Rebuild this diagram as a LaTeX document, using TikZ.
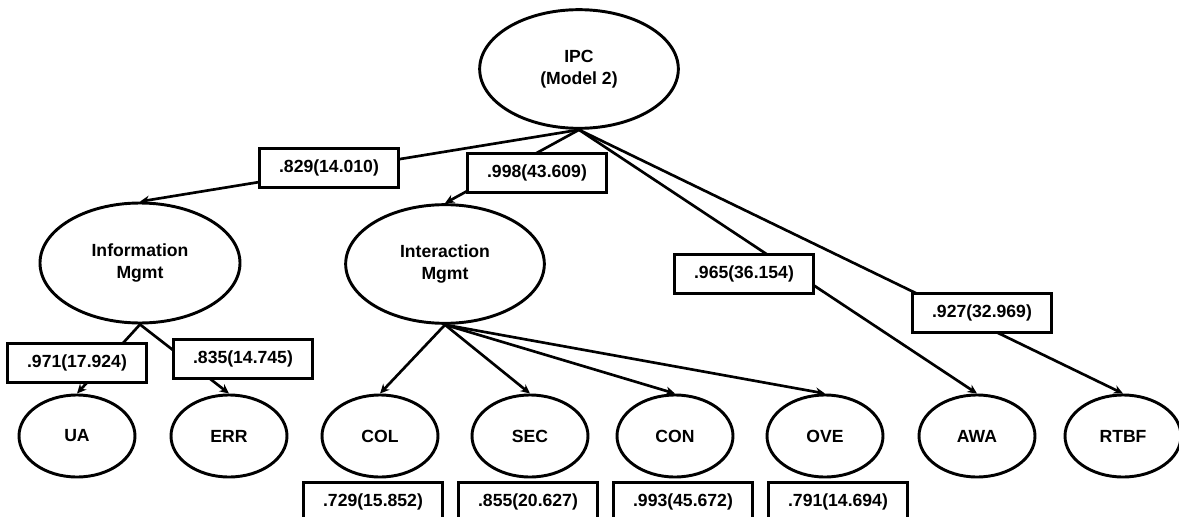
\documentclass[tikz,border=0pt]{standalone}
\usepackage{fontspec}
\setmainfont{Liberation Sans}
\usetikzlibrary{shapes.geometric,arrows.meta}

\tikzset{
  latent/.style={ellipse, draw, line width=2.2pt, inner sep=0pt, align=center,
    font=\fontsize{13.2}{16.5}\selectfont\bfseries},
  bigvar/.style={latent, minimum width=149pt, minimum height=89pt},
  smallvar/.style={latent, minimum width=87pt, minimum height=61.5pt},
  loadbox/.style={draw, fill=white, line width=2.2pt, inner sep=0pt,
    minimum width=104pt, minimum height=29pt,
    font=\fontsize{13.2}{15}\selectfont\bfseries},
  link/.style={line width=2pt, -{Stealth[length=7pt,width=6.5pt]}}
}

\begin{document}
\begin{tikzpicture}[x=0.75pt,y=-0.75pt]
    \useasboundingbox (0,0) rectangle (1179,517);

    % Define the factors
    \node[bigvar] (IPC) at (579,69) {IPC\\(Model 2)};
    \node[bigvar, minimum width=150pt, minimum height=90pt] (Info) at (140,263) {Information\\Mgmt};
    \node[bigvar] (Inter) at (445,264) {Interaction\\Mgmt};

    % Define the indicators
    \node[smallvar] (UA) at (77,436) {UA};
    \node[smallvar] (ERR) at (229,436) {ERR};
    \node[smallvar] (COL) at (380,436) {COL};
    \node[smallvar] (SEC) at (530,436) {SEC};
    \node[smallvar] (CON) at (675,436) {CON};
    \node[smallvar] (OVE) at (825,436) {OVE};
    \node[smallvar] (AWA) at (977,436) {AWA};
    \node[smallvar] (RTBF) at (1123,436) {RTBF};

    % Draw the paths
    \foreach \child in {Info,Inter,AWA,RTBF}
      \draw[link] (IPC.south) -- (\child.north);
    \foreach \child in {UA,ERR}
      \draw[link] (Info.south) -- (\child.north);
    \foreach \child in {COL,SEC,CON,OVE}
      \draw[link] (Inter.south) -- (\child.north);

    % Label the loadings
    \node[loadbox] (InfoLoad) at (329,168) {.829(14.010)};
    \node[loadbox] (InterLoad) at (537,173) {.998(43.609)};
    \node[loadbox] (AWALoad) at (744,274) {.965(36.154)};
    \node[loadbox] (RTBFLoad) at (982,313) {.927(32.969)};
    \node[loadbox] (UALoad) at (77,363) {.971(17.924)};
    \node[loadbox] (ERRLoad) at (243,359) {.835(14.745)};
    \node[loadbox] (COLLoad) at (373,502) {.729(15.852)};
    \node[loadbox] (SECLoad) at (528,502) {.855(20.627)};
    \node[loadbox] (CONLoad) at (683,502) {.993(45.672)};
    \node[loadbox] (OVELoad) at (838,502) {.791(14.694)};

\end{tikzpicture}
\end{document}
